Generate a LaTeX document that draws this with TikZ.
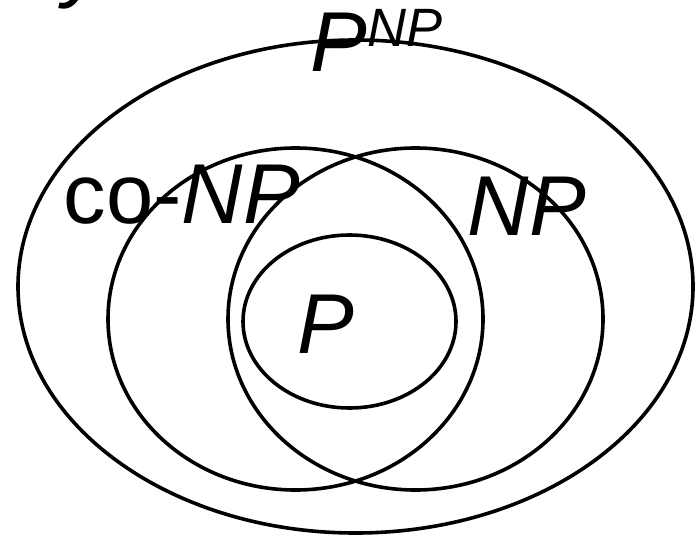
\documentclass[tikz,border=0pt]{standalone}
\usepackage{fontspec}
\setmainfont{Liberation Sans}
\usepackage{tikz}
\usetikzlibrary{shapes.geometric}

\begin{document}
\begin{tikzpicture}[x=1pt,y=-1pt,line width=3.6pt,
    set/.style={draw,ellipse,inner sep=0pt,outer sep=0pt},
    big/.style={font=\fontsize{85}{90}\selectfont,inner sep=0pt,anchor=base west}]
      \useasboundingbox (0,0) rectangle (700,537);
      % classes
      \node[set,minimum width=675pt,minimum height=493pt] (pnp) at (355.5,286.5) {};
      \node[set,minimum width=375pt,minimum height=342pt] (conp) at (295.5,319) {};
      \node[set,minimum width=375pt,minimum height=342pt] (np) at (415.5,319) {};
      \node[set,minimum width=213pt,minimum height=173pt] (p) at (349.5,321.5) {};

      % labels
      \node[big] (pnplabel) at (309,72) {\textit{P\raisebox{25pt}{\fontsize{54}{56}\selectfont NP}}};
      \node[big] (conplabel) at (62,223) {co-\textit{NP}};
      \node[big] (nplabel) at (466,235) {\textit{NP}};
      \node[big] (plabel) at (296,353) {\textit{P}};
      \node[big] (cut) at (62,-8) {\textit{y}};
\end{tikzpicture}
\end{document}
